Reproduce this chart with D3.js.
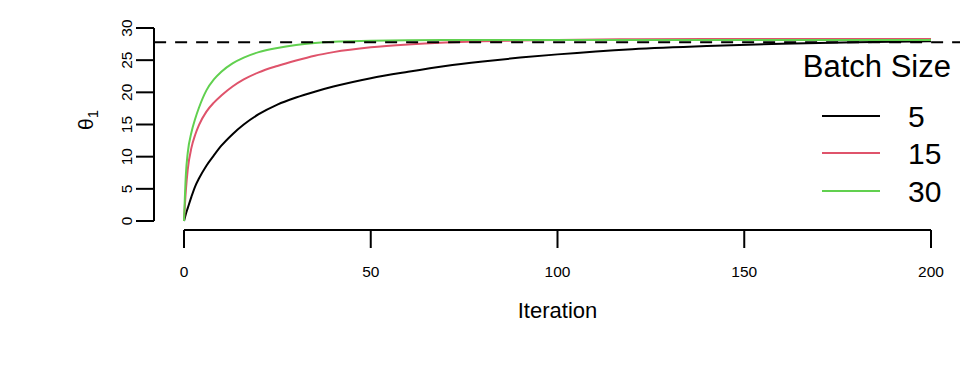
<!DOCTYPE html>
<html>
<head>
<meta charset="utf-8">
<script src="https://cdn.jsdelivr.net/npm/d3@7"></script>
<style>
html,body{margin:0;padding:0;background:#fff;}
svg{display:block;font-family:"Liberation Sans",Arial,Helvetica,sans-serif;}
</style>
</head>
<body>
<svg id="chart" width="960" height="384"></svg>
<script>
// ---- data ----
const iterations = [0,0.5,1,2,3,4,6,8,10,13,16,20,25,30,35,40,50,60,70,80,90,100,120,140,160,180,200];
const batch5  = [0,1.1,2.0,3.8,5.4,6.6,8.6,10.2,11.7,13.5,15.0,16.6,18.1,19.2,20.1,20.9,22.2,23.2,24.1,24.8,25.4,25.9,26.7,27.2,27.55,27.8,27.95];
const batch15 = [0,4.8,8.0,11.4,13.4,14.9,17.0,18.4,19.5,20.9,22.0,23.1,24.1,24.95,25.7,26.25,27.0,27.45,27.75,27.95,28.05,28.15,28.25,28.3,28.3,28.3,28.3];
const batch30 = [0,7.2,10.6,13.8,15.9,17.6,20.3,22.0,23.2,24.5,25.4,26.25,26.9,27.35,27.65,27.85,28.0,28.1,28.15,28.15,28.15,28.15,28.15,28.15,28.15,28.15,28.15];
const seriesNames = ["5","15","30"];
const seriesColors = ["#000000","#DF536B","#61D04F"];
const trueValue = 27.8;
const xTicks = [0,50,100,150,200];
const yTicks = [0,5,10,15,20,25,30];

const series = [batch5, batch15, batch30];

const svg = d3.select("#chart");
const x = d3.scaleLinear().domain([0,200]).range([184,931]);
const y = d3.scaleLinear().domain([0,30]).range([221,28]);
const xRegion = [-8, 208];
const axisY = 230, axisX = 154, tickLen = 18;

// y axis
svg.append("line").attr("x1",axisX).attr("x2",axisX).attr("y1",y(0)).attr("y2",y(30))
  .attr("stroke","#000").attr("stroke-width",2);
yTicks.forEach(t=>{
  svg.append("line").attr("x1",axisX-tickLen).attr("x2",axisX).attr("y1",y(t)).attr("y2",y(t))
    .attr("stroke","#000").attr("stroke-width",2);
  svg.append("text").attr("transform",`translate(132,${y(t)}) rotate(-90)`)
    .attr("text-anchor","middle").attr("font-size",15.5).text(t);
});
// x axis
svg.append("line").attr("x1",x(0)).attr("x2",x(200)).attr("y1",axisY).attr("y2",axisY)
  .attr("stroke","#000").attr("stroke-width",2);
xTicks.forEach(t=>{
  svg.append("text").attr("x",x(t)).attr("y",277).attr("text-anchor","middle")
    .attr("font-size",15.5).text(t);
  svg.append("line").attr("x1",x(t)).attr("x2",x(t)).attr("y1",axisY).attr("y2",axisY+tickLen)
    .attr("stroke","#000").attr("stroke-width",2);
});
// titles
svg.append("text").attr("x",x(100)).attr("y",318).attr("text-anchor","middle")
  .attr("font-size",22).text("Iteration");
const yt = svg.append("text").attr("transform","translate(93,120) rotate(-90)")
  .attr("text-anchor","middle").attr("font-size",21);
yt.append("tspan").text("θ");
yt.append("tspan").attr("font-size",15).attr("dy",5).text("1");

// curves
const line = d3.line().x((d,i)=>x(iterations[i])).y(d=>y(d)).curve(d3.curveMonotoneX);
series.forEach((s,k)=>{
  svg.append("path").datum(s).attr("d",line).attr("fill","none")
    .attr("stroke",seriesColors[k]).attr("stroke-width",2);
});
// dashed reference line
svg.append("line").attr("x1",x(xRegion[0])).attr("x2",x(xRegion[1]))
  .attr("y1",y(trueValue)).attr("y2",y(trueValue))
  .attr("stroke","#000").attr("stroke-width",2).attr("stroke-dasharray","12,9");

// legend
svg.append("text").attr("x",951).attr("y",77).attr("text-anchor","end")
  .attr("font-size",31).text("Batch Size");
const ly = [116,153,191];
seriesNames.forEach((n,k)=>{
  svg.append("line").attr("x1",822).attr("x2",880).attr("y1",ly[k]).attr("y2",ly[k])
    .attr("stroke",seriesColors[k]).attr("stroke-width",2);
  svg.append("text").attr("x",908).attr("y",ly[k]+11).attr("font-size",30).text(n);
});
</script>
</body>
</html>
